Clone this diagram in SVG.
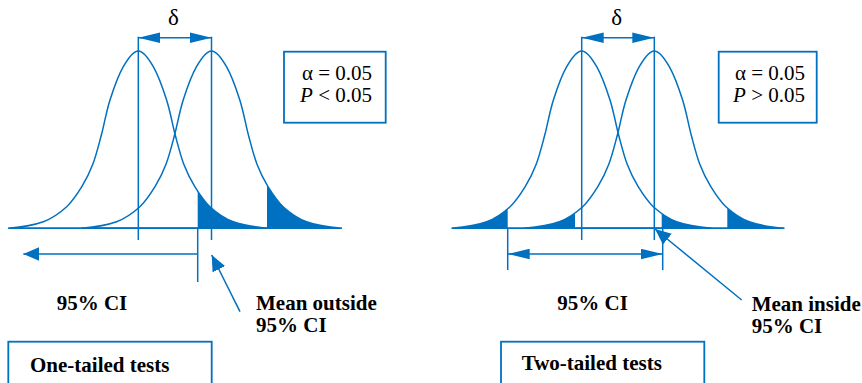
<svg xmlns="http://www.w3.org/2000/svg" xmlns:xlink="http://www.w3.org/1999/xlink" width="862" height="383" viewBox="0 0 862 383">
<style>
.ln{stroke:#0070C0;stroke-width:1.5;fill:none}
.sh{fill:#0070C0;stroke:none}
.bx{stroke:#0070C0;stroke-width:1.8;fill:#fff}
.sym{font-family:"Liberation Serif","Times New Roman",serif;font-size:21px;fill:#000}
.lbl{font-family:"Liberation Serif","Times New Roman",serif;font-size:21px;font-weight:bold;fill:#000}
.dl{font-family:"Liberation Serif","Times New Roman",serif;font-size:23px;fill:#000;text-anchor:middle}
</style>
<defs>
<path id="bell" d="M-130,0 C-118.33,-1.1 -104.73,-3.0 -95,-6.6 C-85.27,-10.2 -78.02,-15.77 -71.6,-21.6 C-65.18,-27.43 -60.85,-34.53 -56.5,-41.6 C-52.15,-48.67 -48.75,-55.43 -45.5,-64 C-42.25,-72.57 -39.87,-82.28 -37,-93 C-34.13,-103.72 -31.97,-116.87 -28.3,-128.3 C-24.63,-139.73 -19.72,-153.43 -15,-161.6 C-10.28,-169.77 -5,-177.3 0,-177.3 C5,-177.3 10.28,-169.77 15,-161.6 C19.72,-153.43 24.63,-139.73 28.3,-128.3 C31.97,-116.87 34.13,-103.72 37,-93 C39.87,-82.28 42.25,-72.57 45.5,-64 C48.75,-55.43 52.15,-48.67 56.5,-41.6 C60.85,-34.53 65.18,-27.43 71.6,-21.6 C78.02,-15.77 85.27,-10.2 95,-6.6 C104.73,-3.0 118.33,-1.1 130,0 Z"/>
<clipPath id="cL1"><rect x="197.7" y="0" width="160" height="240"/></clipPath>
<clipPath id="cL2"><rect x="267" y="0" width="100" height="240"/></clipPath>
<clipPath id="cR1"><rect x="440" y="0" width="67.7" height="240"/></clipPath>
<clipPath id="cR2"><rect x="661.7" y="0" width="80" height="240"/></clipPath>
<clipPath id="cR3"><rect x="500" y="0" width="75" height="240"/></clipPath>
<clipPath id="cR4"><rect x="727.3" y="0" width="80" height="240"/></clipPath>
<marker id="mA" markerUnits="userSpaceOnUse" viewBox="-22 -5.5 22 11" markerWidth="22" markerHeight="11" refX="0" refY="0" orient="auto-start-reverse"><path d="M0,0 L-22,-5.3 L-22,5.3 Z" fill="#0070C0"/></marker>
<marker id="mB" markerUnits="userSpaceOnUse" viewBox="-16 -7 16 14" markerWidth="16" markerHeight="14" refX="0" refY="0" orient="auto-start-reverse"><path d="M0,0 L-16,-7 L-16,7 Z" fill="#0070C0"/></marker>
</defs>

<g id="one-tailed-panel">
  <g id="L-shading">
    <g clip-path="url(#cL1)"><use xlink:href="#bell" class="sh" transform="translate(138.3,228.3)"/></g>
    <g clip-path="url(#cL2)"><use xlink:href="#bell" class="sh" transform="translate(211.5,228.3)"/></g>
  </g>
  <g id="L-curves">
    <use xlink:href="#bell" class="ln" transform="translate(138.3,228.3)"/>
    <use xlink:href="#bell" class="ln" transform="translate(211.5,228.3)"/>
    <line class="ln" x1="8.3" y1="228.3" x2="342" y2="228.3"/>
  </g>
  <g id="L-lines">
    <line class="ln" x1="138.3" y1="36.7" x2="138.3" y2="240"/>
    <line class="ln" x1="211.5" y1="36.7" x2="211.5" y2="240"/>
    <line class="ln" x1="197.7" y1="228" x2="197.7" y2="282"/>
  </g>
  <text class="dl" x="173.3" y="25">δ</text>
  <g id="L-box">
    <rect class="bx" x="284" y="51.7" width="101.7" height="71"/>
    <text class="sym" x="372" y="80" text-anchor="end">α = 0.05</text>
    <text class="sym" x="372" y="101.7" text-anchor="end"><tspan font-style="italic">P</tspan> &lt; 0.05</text>
  </g>
  <text class="lbl" x="56.7" y="310">95% CI</text>
  <text class="lbl" x="256" y="310">Mean outside</text>
  <text class="lbl" x="256" y="332">95% CI</text>
  <g id="L-title">
    <rect class="bx" x="8.3" y="341.7" width="203.4" height="50"/>
    <text class="lbl" x="30" y="371.7">One-tailed tests</text>
  </g>
</g>

<g id="two-tailed-panel">
  <g id="R-shading">
    <g clip-path="url(#cR1)"><use xlink:href="#bell" class="sh" transform="translate(581.7,228.3)"/></g>
    <g clip-path="url(#cR2)"><use xlink:href="#bell" class="sh" transform="translate(581.7,228.3)"/></g>
    <g clip-path="url(#cR3)"><use xlink:href="#bell" class="sh" transform="translate(654.3,228.3)"/></g>
    <g clip-path="url(#cR4)"><use xlink:href="#bell" class="sh" transform="translate(654.3,228.3)"/></g>
  </g>
  <g id="R-curves">
    <use xlink:href="#bell" class="ln" transform="translate(581.7,228.3)"/>
    <use xlink:href="#bell" class="ln" transform="translate(654.3,228.3)"/>
    <line class="ln" x1="451.7" y1="228.3" x2="784.3" y2="228.3"/>
  </g>
  <g id="R-lines">
    <line class="ln" x1="581.7" y1="36.7" x2="581.7" y2="240"/>
    <line class="ln" x1="654.3" y1="36.7" x2="654.3" y2="240"/>
    <line class="ln" x1="507.7" y1="228" x2="507.7" y2="270"/>
    <line class="ln" x1="662.7" y1="228" x2="662.7" y2="270"/>
  </g>
  <text class="dl" x="616.7" y="25">δ</text>
  <g id="R-box">
    <rect class="bx" x="718.7" y="51.7" width="98" height="71"/>
    <text class="sym" x="805" y="80" text-anchor="end">α = 0.05</text>
    <text class="sym" x="805" y="101.7" text-anchor="end"><tspan font-style="italic">P</tspan> &gt; 0.05</text>
  </g>
  <text class="lbl" x="557.3" y="310">95% CI</text>
  <text class="lbl" x="751.7" y="310.5">Mean inside</text>
  <text class="lbl" x="751.7" y="332.5">95% CI</text>
  <g id="R-title">
    <rect class="bx" x="501" y="341.7" width="203.3" height="50"/>
    <text class="lbl" x="521.7" y="370">Two-tailed tests</text>
  </g>
</g>

<g id="connectors">
  <line class="ln" x1="138.3" y1="37.7" x2="211.5" y2="37.7" marker-start="url(#mA)" marker-end="url(#mA)"/>
  <line class="ln" x1="197.7" y1="254" x2="23.3" y2="254" marker-end="url(#mB)"/>
  <line class="ln" x1="240" y1="311.7" x2="211.7" y2="255" marker-end="url(#mB)"/>
  <line class="ln" x1="581.7" y1="37.7" x2="654.3" y2="37.7" marker-start="url(#mA)" marker-end="url(#mA)"/>
  <line class="ln" x1="507.7" y1="254" x2="662.7" y2="254" marker-start="url(#mA)" marker-end="url(#mA)"/>
  <line class="ln" x1="741.7" y1="300" x2="655" y2="229" marker-end="url(#mB)"/>
</g>
</svg>
